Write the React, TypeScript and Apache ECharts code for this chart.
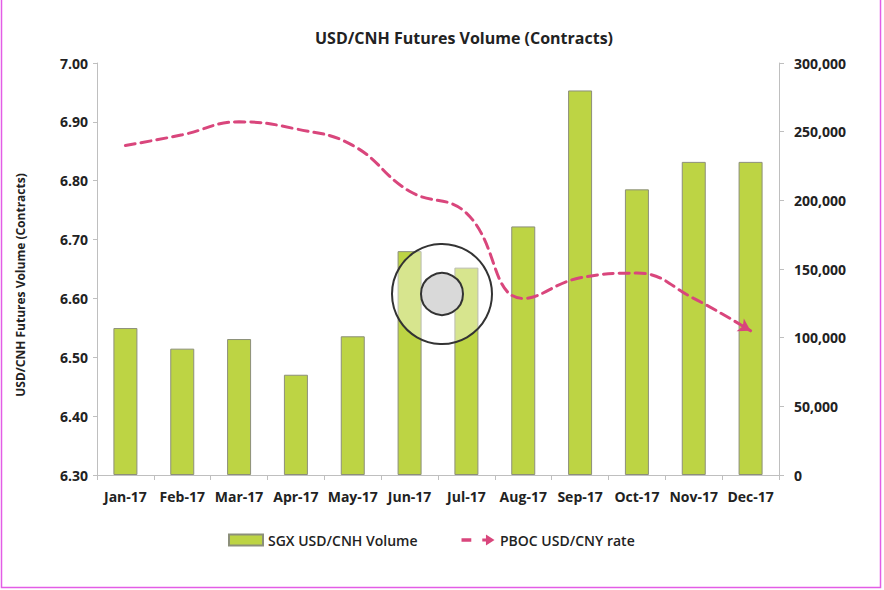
import React, { useEffect, useRef } from "react";
import * as echarts from "echarts";

const categories = ["Jan-17", "Feb-17", "Mar-17", "Apr-17", "May-17", "Jun-17", "Jul-17", "Aug-17", "Sep-17", "Oct-17", "Nov-17", "Dec-17"];
const volume = [107000, 92000, 99000, 73000, 101000, 163000, 151000, 181000, 280000, 208000, 228000, 228000];
const rate = [6.86, 6.878, 6.9, 6.888, 6.86, 6.782, 6.745, 6.6, 6.635, 6.643, 6.6, 6.545];
const leftTicks = { min: 6.3, max: 7.0, interval: 0.1 };
const rightTicks = { min: 0, max: 300000, interval: 50000 };

const FONT = "'Open Sans', 'Noto Sans', sans-serif";

export default function App() {
  const ref = useRef<HTMLDivElement>(null);
  useEffect(() => {
    if (!ref.current) return;
    const chart = echarts.init(ref.current, null, { renderer: "svg" });
    const lineData: any[] = rate.map((v, i) =>
      i === rate.length - 1
        ? { value: v, symbol: "arrow", symbolSize: [11, 12], symbolRotate: -120, itemStyle: { color: "#d9467c" } }
        : { value: v, symbol: "none" }
    );
    chart.setOption({
      animation: false,
      backgroundColor: "#ffffff",
      textStyle: { fontFamily: FONT },
      title: {
        text: "USD/CNH Futures Volume (Contracts)",
        left: 310,
        top: 25,
        textStyle: { fontFamily: FONT, fontSize: 16, fontWeight: "bold", color: "#222" },
      },
      grid: { left: 97, right: 105, top: 63, bottom: 115, containLabel: false },
      legend: {
        left: 228,
        top: 533,
        padding: 0,
        itemGap: 44,
        itemWidth: 34,
        itemHeight: 11,
        textStyle: { fontFamily: FONT, fontSize: 14, fontWeight: 600, color: "#222" },
        data: [
          { name: "SGX USD/CNH Volume", icon: "rect" },
          {
            name: "PBOC USD/CNY rate",
            icon: "path://M0,3.5h8v3h-8z M17,3.8h4v2.4h-4z M20,0.5l7,4.5-7,4.5z",
            itemStyle: { color: "#d9467c" },
          },
        ],
      },
      xAxis: {
        type: "category",
        data: categories,
        boundaryGap: true,
        axisLine: { lineStyle: { color: "#bfbfbf", width: 1 } },
        axisTick: { show: true, length: 5, lineStyle: { color: "#bfbfbf" } },
        axisLabel: { interval: 0, margin: 14, fontFamily: FONT, fontSize: 14, fontWeight: "bold", color: "#222" },
      },
      yAxis: [
        {
          type: "value",
          min: leftTicks.min,
          max: leftTicks.max,
          interval: leftTicks.interval,
          position: "left",
          axisLine: { show: true, lineStyle: { color: "#bfbfbf" } },
          axisTick: { show: true, length: 4, lineStyle: { color: "#bfbfbf" } },
          splitLine: { show: false },
          axisLabel: {
            margin: 9,
            fontFamily: FONT,
            fontSize: 14,
            fontWeight: "bold",
            color: "#222",
            formatter: (v: number) => v.toFixed(2),
          },
        },
        {
          type: "value",
          min: rightTicks.min,
          max: rightTicks.max,
          interval: rightTicks.interval,
          position: "right",
          axisLine: { show: true, lineStyle: { color: "#bfbfbf" } },
          axisTick: { show: true, length: 5, lineStyle: { color: "#bfbfbf" } },
          splitLine: { show: false },
          axisLabel: {
            margin: 15,
            fontFamily: FONT,
            fontSize: 14,
            fontWeight: "bold",
            color: "#222",
            formatter: (v: number) => v.toLocaleString("en-US"),
          },
        },
      ],
      series: [
        {
          name: "SGX USD/CNH Volume",
          type: "bar",
          yAxisIndex: 1,
          data: volume,
          barWidth: 24,
          itemStyle: { color: "#bdd444", borderColor: "#8c8f7a", borderWidth: 1 },
        },
        {
          name: "PBOC USD/CNY rate",
          type: "line",
          yAxisIndex: 0,
          data: lineData,
          smooth: 0.45,
          symbol: "none",
          showSymbol: true,
          itemStyle: { color: "#d9467c" },
          lineStyle: { color: "#d9467c", width: 3, type: [10, 6], cap: "round" },
          z: 3,
        },
      ],
      graphic: [
        {
          type: "circle",
          shape: { cx: 442, cy: 294, r: 50 },
          style: { fill: "rgba(255,255,255,0.4)", stroke: "#333", lineWidth: 2 },
          z: 100,
        },
        {
          type: "circle",
          shape: { cx: 442, cy: 294, r: 21 },
          style: { fill: "#d9d9d9", stroke: "#333", lineWidth: 2 },
          z: 101,
        },
        {
          type: "text",
          x: 20,
          y: 285,
          rotation: Math.PI / 2,
          style: {
            text: "USD/CNH Futures Volume (Contracts)",
            fontFamily: FONT,
            fontSize: 12,
            fontWeight: "bold",
            fill: "#222",
            align: "center",
            verticalAlign: "middle",
          },
        },
        {
          type: "rect",
          shape: { x: 1.5, y: -10, width: 879, height: 597.5 },
          style: { fill: "none", stroke: "#e35de6", lineWidth: 1.5 },
          z: 102,
        },
      ],
    });
    return () => chart.dispose();
  }, []);
  return <div ref={ref} style={{ position: "fixed", left: 0, top: 0, width: 884, height: 590 }} />;
}
